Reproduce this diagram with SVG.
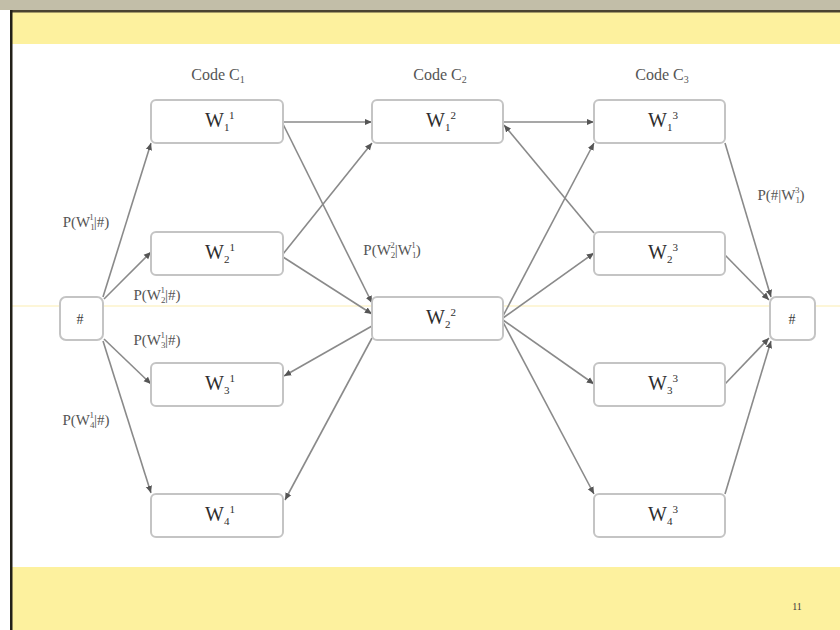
<svg xmlns="http://www.w3.org/2000/svg" width="840" height="630" viewBox="0 0 840 630">
  <defs>
    <style>
      .box { fill: #ffffff; stroke: #c4c4c4; stroke-width: 2; }
      .edge { stroke: #8a8a8a; stroke-width: 1.6; fill: none; marker-end: url(#arrow); }
      .t { font-family: "Liberation Serif", "Times New Roman", serif; fill: #3a3a3a; }
      .w { font-size: 20px; fill: #2e2e2e; }
      .ix { font-size: 11px; }
      .lbl { font-size: 15px; fill: #555555; }
      .hdr { font-size: 16px; fill: #555555; }
    </style>
    <marker id="arrow" viewBox="0 0 10 10" refX="9" refY="5" markerWidth="5" markerHeight="5" orient="auto-start-reverse" markerUnits="strokeWidth">
      <path d="M0,1 L9,5 L0,9 z" fill="#555555"/>
    </marker>
  </defs>

  <!-- page frame -->
  <rect x="0" y="0" width="840" height="630" fill="#ffffff"/>
  <rect x="0" y="0" width="840" height="10" fill="#c2bea8"/>
  <rect x="12" y="12" width="828" height="32" fill="#fdf19e"/>
  <rect x="12" y="567" width="828" height="63" fill="#fdf19e"/>
  <line x1="10" y1="306" x2="840" y2="306" stroke="#fdf6d8" stroke-width="2"/>
  <rect x="10" y="10" width="830" height="2.5" fill="#4a4330"/>
  <rect x="10" y="10" width="2.5" height="620" fill="#222018"/>
  <text class="t" x="797" y="610" font-size="10" fill="#a89e6a" text-anchor="middle">11</text>

  <!-- column headings -->
  <text class="t hdr" x="218" y="80" text-anchor="middle">Code C<tspan font-size="10" dy="3">1</tspan></text>
  <text class="t hdr" x="440" y="80" text-anchor="middle">Code C<tspan font-size="10" dy="3">2</tspan></text>
  <text class="t hdr" x="662" y="80" text-anchor="middle">Code C<tspan font-size="10" dy="3">3</tspan></text>

  <!-- connectors -->
  <g id="connectors">
    <!-- start node to first code -->
    <line class="edge" x1="103" y1="297" x2="151" y2="143"/>
    <line class="edge" x1="104" y1="299" x2="151" y2="252"/>
    <line class="edge" x1="104" y1="339" x2="151" y2="384"/>
    <line class="edge" x1="103" y1="341" x2="151" y2="493"/>
    <!-- first code to second code -->
    <line class="edge" x1="283" y1="122" x2="372" y2="122"/>
    <line class="edge" x1="283" y1="124" x2="372" y2="303"/>
    <line class="edge" x1="283" y1="254" x2="372" y2="143"/>
    <line class="edge" x1="283" y1="257" x2="372" y2="314"/>
    <line class="edge" x1="372" y1="326" x2="284" y2="376"/>
    <line class="edge" x1="372" y1="338" x2="285" y2="500"/>
    <!-- second code to third code -->
    <line class="edge" x1="503" y1="122" x2="594" y2="122"/>
    <line class="edge" x1="594" y1="233" x2="504" y2="125"/>
    <line class="edge" x1="503" y1="316" x2="594" y2="143"/>
    <line class="edge" x1="503" y1="318" x2="594" y2="253"/>
    <line class="edge" x1="503" y1="320" x2="594" y2="384"/>
    <line class="edge" x1="503" y1="322" x2="594" y2="494"/>
    <!-- third code to end node -->
    <line class="edge" x1="725" y1="143" x2="771" y2="297"/>
    <line class="edge" x1="725" y1="255" x2="769" y2="300"/>
    <line class="edge" x1="725" y1="384" x2="769" y2="338"/>
    <line class="edge" x1="725" y1="494" x2="771" y2="341"/>
  </g>

  <!-- edge labels -->
  <g id="edge-labels">
    <text class="t lbl" x="86" y="227" text-anchor="middle">P(W<tspan font-size="9" dy="3">1</tspan><tspan font-size="9" dx="-5" dy="-10">1</tspan><tspan dy="7">|#)</tspan></text>
    <text class="t lbl" x="157" y="300" text-anchor="middle">P(W<tspan font-size="9" dy="3">2</tspan><tspan font-size="9" dx="-5" dy="-10">1</tspan><tspan dy="7">|#)</tspan></text>
    <text class="t lbl" x="157" y="345" text-anchor="middle">P(W<tspan font-size="9" dy="3">3</tspan><tspan font-size="9" dx="-5" dy="-10">1</tspan><tspan dy="7">|#)</tspan></text>
    <text class="t lbl" x="86" y="425" text-anchor="middle">P(W<tspan font-size="9" dy="3">4</tspan><tspan font-size="9" dx="-5" dy="-10">1</tspan><tspan dy="7">|#)</tspan></text>
    <text class="t lbl" x="392" y="255" text-anchor="middle">P(W<tspan font-size="9" dy="3">2</tspan><tspan font-size="9" dx="-5" dy="-10">2</tspan><tspan dy="7">|W</tspan><tspan font-size="9" dy="3">1</tspan><tspan font-size="9" dx="-5" dy="-10">1</tspan><tspan dy="7">)</tspan></text>
    <text class="t lbl" x="781" y="200" text-anchor="middle">P(#|W<tspan font-size="9" dy="3">1</tspan><tspan font-size="9" dx="-5" dy="-10">3</tspan><tspan dy="7">)</tspan></text>
  </g>

  <!-- start node -->
  <g id="start">
    <rect class="box" x="60" y="297" width="43" height="43" rx="6"/>
    <text class="t" x="80" y="324" font-size="14" fill="#555" text-anchor="middle">#</text>
  </g>

  <!-- code C1 -->
  <g id="w1-1">
    <rect class="box" x="151" y="100" width="132" height="43" rx="5"/>
    <text class="t w" x="205" y="127">W<tspan class="ix" dy="4">1</tspan><tspan class="ix" dy="-12">1</tspan></text>
  </g>
  <g id="w2-1">
    <rect class="box" x="151" y="232" width="132" height="43" rx="5"/>
    <text class="t w" x="205" y="259">W<tspan class="ix" dy="4">2</tspan><tspan class="ix" dy="-12">1</tspan></text>
  </g>
  <g id="w3-1">
    <rect class="box" x="151" y="363" width="132" height="43" rx="5"/>
    <text class="t w" x="205" y="390">W<tspan class="ix" dy="4">3</tspan><tspan class="ix" dy="-12">1</tspan></text>
  </g>
  <g id="w4-1">
    <rect class="box" x="151" y="494" width="132" height="43" rx="5"/>
    <text class="t w" x="205" y="521">W<tspan class="ix" dy="4">4</tspan><tspan class="ix" dy="-12">1</tspan></text>
  </g>

  <!-- code C2 -->
  <g id="w1-2">
    <rect class="box" x="372" y="100" width="131" height="43" rx="5"/>
    <text class="t w" x="426" y="127">W<tspan class="ix" dy="4">1</tspan><tspan class="ix" dy="-12">2</tspan></text>
  </g>
  <g id="w2-2">
    <rect class="box" x="372" y="297" width="131" height="43" rx="5"/>
    <text class="t w" x="426" y="324">W<tspan class="ix" dy="4">2</tspan><tspan class="ix" dy="-12">2</tspan></text>
  </g>

  <!-- code C3 -->
  <g id="w1-3">
    <rect class="box" x="594" y="100" width="131" height="43" rx="5"/>
    <text class="t w" x="648" y="127">W<tspan class="ix" dy="4">1</tspan><tspan class="ix" dy="-12">3</tspan></text>
  </g>
  <g id="w2-3">
    <rect class="box" x="594" y="232" width="131" height="43" rx="5"/>
    <text class="t w" x="648" y="259">W<tspan class="ix" dy="4">2</tspan><tspan class="ix" dy="-12">3</tspan></text>
  </g>
  <g id="w3-3">
    <rect class="box" x="594" y="363" width="131" height="43" rx="5"/>
    <text class="t w" x="648" y="390">W<tspan class="ix" dy="4">3</tspan><tspan class="ix" dy="-12">3</tspan></text>
  </g>
  <g id="w4-3">
    <rect class="box" x="594" y="494" width="131" height="43" rx="5"/>
    <text class="t w" x="648" y="521">W<tspan class="ix" dy="4">4</tspan><tspan class="ix" dy="-12">3</tspan></text>
  </g>

  <!-- end node -->
  <g id="end">
    <rect class="box" x="770" y="297" width="45" height="43" rx="6"/>
    <text class="t" x="792" y="324" font-size="14" fill="#555" text-anchor="middle">#</text>
  </g>
</svg>
